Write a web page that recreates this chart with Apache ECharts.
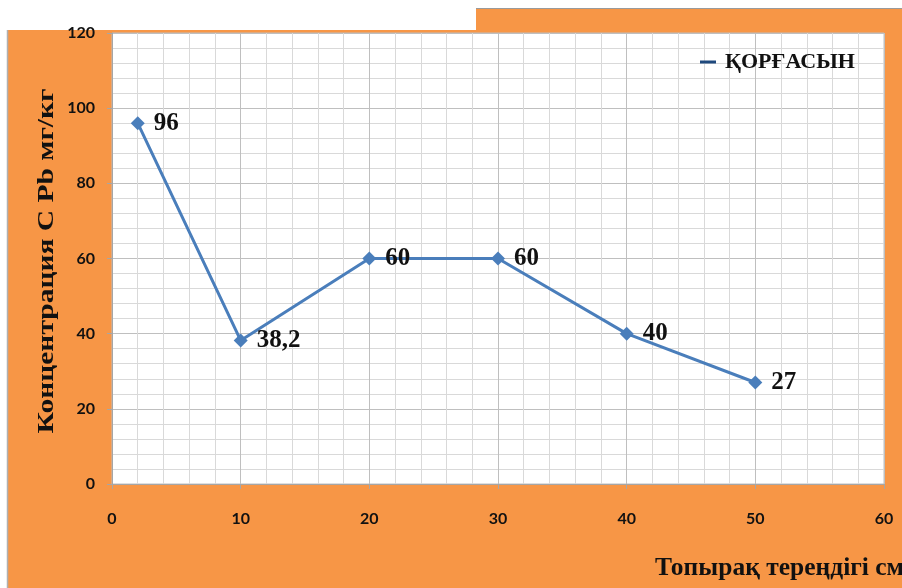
<!DOCTYPE html>
<html>
<head>
<meta charset="utf-8">
<script src="https://cdn.jsdelivr.net/npm/echarts@6/dist/echarts.min.js"></script>
<style>
  html, body { margin: 0; padding: 0; background: #ffffff; }
  #chart { width: 902px; height: 588px; }
</style>
</head>
<body>
<div id="chart"></div>
<script>
// Lead (Pb) concentration versus soil depth
const depthCm = [2, 10, 20, 30, 40, 50];
const leadMgKg = [96, 38.2, 60, 60, 40, 27];
const seriesName = 'ҚОРҒАСЫН';
const yTitle = 'Концентрация С Pb мг/кг';
const xTitle = 'Топырақ тереңдігі см';

const serif = '"Liberation Serif", "DejaVu Serif", serif';
const sans = 'Lato, "Open Sans", sans-serif';

const chart = echarts.init(document.getElementById('chart'), null, { renderer: 'canvas' });

chart.setOption({
  backgroundColor: '#F79646',
  animation: false,
  grid: {
    left: 112, right: 18, top: 33, bottom: 104,
    show: true, backgroundColor: '#ffffff', borderColor: '#bfbfbf', borderWidth: 1
  },
  legend: {
    data: [{ name: seriesName, icon: 'rect' }],
    left: 695, top: 46,
    itemWidth: 16, itemHeight: 3, itemGap: 8,
    itemStyle: { color: '#1F497D' },
    textStyle: { fontFamily: serif, fontWeight: 'bold', fontSize: 22, color: '#111111', padding: [0, 0, 0, 4] }
  },
  xAxis: {
    type: 'value', min: 0, max: 60, interval: 10,
    axisLine: { show: true, lineStyle: { color: '#a6a6a6' } },
    axisTick: { show: true, length: 5, lineStyle: { color: '#a6a6a6' } },
    minorTick: { show: false, splitNumber: 5 },
    splitLine: { show: true, lineStyle: { color: '#bfbfbf', width: 1 } },
    minorSplitLine: { show: true, lineStyle: { color: '#d9d9d9', width: 1 } },
    axisLabel: { fontFamily: sans, fontWeight: 'bold', fontSize: 16, color: '#111111', margin: 27 }
  },
  yAxis: {
    type: 'value', min: 0, max: 120, interval: 20,
    axisLine: { show: true, lineStyle: { color: '#a6a6a6' } },
    axisTick: { show: true, length: 5, lineStyle: { color: '#a6a6a6' } },
    minorTick: { show: false, splitNumber: 5 },
    splitLine: { show: true, lineStyle: { color: '#bfbfbf', width: 1 } },
    minorSplitLine: { show: true, lineStyle: { color: '#d9d9d9', width: 1 } },
    axisLabel: { fontFamily: sans, fontWeight: 'bold', fontSize: 16, color: '#111111', margin: 17 }
  },
  series: [{
    name: seriesName,
    type: 'line',
    data: depthCm.map((d, i) => [d, leadMgKg[i]]),
    symbol: 'diamond', symbolSize: 14,
    lineStyle: { color: '#4A7EBB', width: 3 },
    itemStyle: { color: '#4A7EBB' },
    label: {
      show: true, position: 'right', distance: 9,
      fontFamily: serif, fontWeight: 'bold', fontSize: 25, color: '#111111',
      formatter: p => String(p.value[1]).replace('.', ',')
    }
  }],
  graphic: [
    { type: 'rect', shape: { x: 0, y: 0, width: 476, height: 30 }, style: { fill: '#ffffff' } },
    { type: 'rect', shape: { x: 476, y: 0, width: 426, height: 8 }, style: { fill: '#ffffff' } },
    { type: 'rect', shape: { x: 0, y: 0, width: 7, height: 588 }, style: { fill: '#ffffff' } },
    { type: 'line', shape: { x1: 476, y1: 8.5, x2: 902, y2: 8.5 }, style: { stroke: '#9a9a9a', lineWidth: 1 } },
    { type: 'line', shape: { x1: 7.5, y1: 30, x2: 7.5, y2: 588 }, style: { stroke: '#b0b0b0', lineWidth: 1.5 } },
    {
      // vertical axis title, drawn widened along its reading direction
      type: 'text', x: 47, y: 261, rotation: Math.PI / 2, scaleX: 1.23,
      style: {
        text: yTitle, fontFamily: serif, fontWeight: 'bold', fontSize: 24, fill: '#111111',
        align: 'center', verticalAlign: 'middle'
      }
    },
    {
      type: 'text', x: 655, y: 569,
      style: {
        text: xTitle, fontFamily: serif, fontWeight: 'bold', fontSize: 25, fill: '#111111',
        align: 'left', verticalAlign: 'middle'
      },
      scaleX: 1.02
    }
  ]
});
</script>
</body>
</html>
